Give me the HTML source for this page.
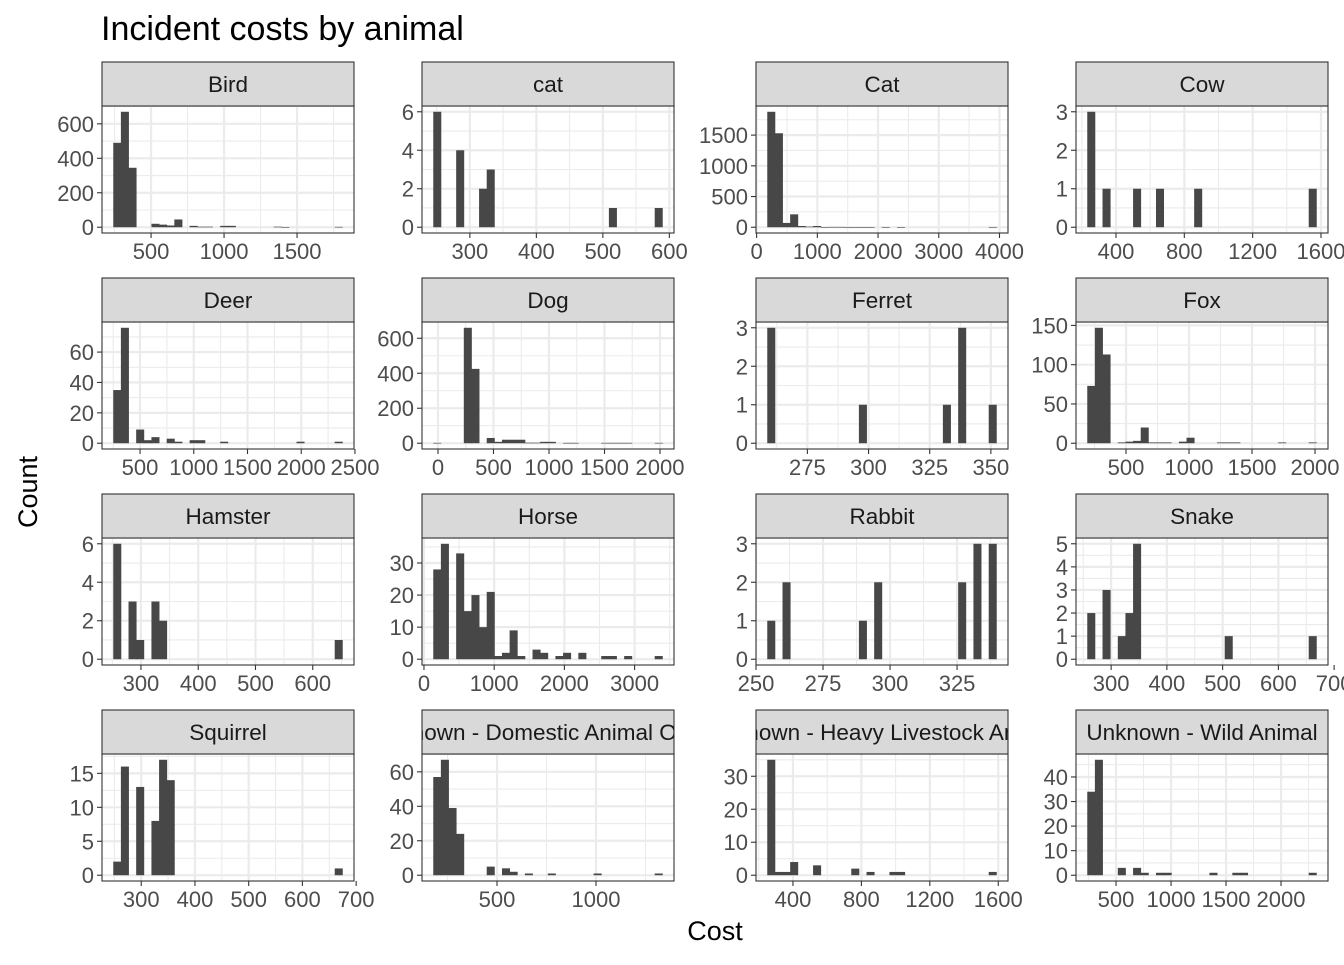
<!DOCTYPE html>
<html><head><meta charset="utf-8"><style>
body{margin:0;background:#fff;}
svg text{font-family:"Liberation Sans",Arial,sans-serif;}
</style></head><body>
<svg id="chart" width="1344" height="960" xmlns="http://www.w3.org/2000/svg">
<rect width="1344" height="960" fill="#fff"/>
<text x="101" y="40" font-size="34" fill="#000">Incident costs by animal</text>
<text x="715" y="940" font-size="27" fill="#000" text-anchor="middle">Cost</text>
<text transform="translate(37,492) rotate(-90)" font-size="27" fill="#000" text-anchor="middle">Count</text>
<defs id="defs"></defs>
<g id="panels"></g>
</svg>
<script>
const panelNames = ["Bird","cat","Cat","Cow","Deer","Dog","Ferret","Fox","Hamster","Horse","Rabbit","Snake","Squirrel","Unknown - Domestic Animal Or Pet","Unknown - Heavy Livestock Animal","Unknown - Wild Animal"];
const xDomains = [[164,1890],[228,607],[-10,4140],[166,1641],[146,2491],[-144,2126],[254,357],[103,2103],[232,672],[-28,3561],[250,344],[237,689],[227,696],[121,1394],[184,1657],[136,2427]];
const xTicks = [[500,1000,1500],[300,400,500,600],[0,1000,2000,3000,4000],[400,800,1200,1600],[500,1000,1500,2000,2500],[0,500,1000,1500,2000],[275,300,325,350],[500,1000,1500,2000],[300,400,500,600],[0,1000,2000,3000],[250,275,300,325],[300,400,500,600,700],[300,400,500,600,700],[500,1000],[400,800,1200,1600],[500,1000,1500,2000]];
const yTicks = [[0,200,400,600],[0,2,4,6],[0,500,1000,1500],[0,1,2,3],[0,20,40,60],[0,200,400,600],[0,1,2,3],[0,50,100,150],[0,2,4,6],[0,10,20,30],[0,1,2,3],[0,1,2,3,4,5],[0,5,10,15],[0,20,40,60],[0,10,20,30],[0,10,20,30,40]];
// bin counts (30 bins per panel)
const countsBird = [490,670,345,0,0,20,15,10,45,0,8,3,3,0,8,8,0,0,0,0,0,3,1,0,0,0,0,0,0,2];
const countsCatLower = [6,0,0,4,0,0,2,3,0,0,0,0,0,0,0,0,0,0,0,0,0,0,0,1,0,0,0,0,0,1];
const countsCat = [1880,1530,70,210,20,10,20,3,5,5,3,2,2,1,0,1,0,1,0,0,0,0,0,0,0,0,0,0,0,1];
const countsCow = [3,0,1,0,0,0,1,0,0,1,0,0,0,0,1,0,0,0,0,0,0,0,0,0,0,0,0,0,0,1];
const countsDeer = [35,76,0,9,2,4,0,3,1,0,2,2,0,0,1,0,0,0,0,0,0,0,0,0,1,0,0,0,0,1];
const countsDog = [2,0,0,0,660,425,0,30,8,20,20,20,3,3,8,8,0,2,2,0,0,0,2,2,2,2,0,0,0,2];
const countsFerret = [3,0,0,0,0,0,0,0,0,0,0,0,1,0,0,0,0,0,0,0,0,0,0,1,0,3,0,0,0,1];
const countsFox = [73,147,113,0,1,2,3,20,1,1,1,0,2,7,0,0,0,1,1,1,0,0,0,0,0,1,0,0,0,1];
const countsHamster = [6,0,3,1,0,3,2,0,0,0,0,0,0,0,0,0,0,0,0,0,0,0,0,0,0,0,0,0,0,1];
const countsHorse = [28,36,0,33,15,20,10,21,1,2,9,1,0,3,2,0,1,2,0,2,0,0,1,1,0,1,0,0,0,1];
const countsRabbit = [1,0,2,0,0,0,0,0,0,0,0,0,1,0,2,0,0,0,0,0,0,0,0,0,0,2,0,3,0,3];
const countsSnake = [2,0,3,0,1,2,5,0,0,0,0,0,0,0,0,0,0,0,1,0,0,0,0,0,0,0,0,0,0,1];
const countsSquirrel = [2,16,0,13,0,8,17,14,0,0,0,0,0,0,0,0,0,0,0,0,0,0,0,0,0,0,0,0,0,1];
const countsDomestic = [57,67,39,24,0,0,0,5,0,4,2,0,1,0,0,1,0,0,0,0,0,1,0,0,0,0,0,0,0,1];
const countsHeavy = [35,1,1,4,0,0,3,0,0,0,0,2,0,1,0,0,1,1,0,0,0,0,0,0,0,0,0,0,0,1];
const countsWild = [34,47,0,0,3,0,3,1,0,1,1,0,0,0,0,0,1,0,0,1,1,0,0,0,0,0,0,0,0,1];
const allCounts = [countsBird,countsCatLower,countsCat,countsCow,countsDeer,countsDog,countsFerret,countsFox,countsHamster,countsHorse,countsRabbit,countsSnake,countsSquirrel,countsDomestic,countsHeavy,countsWild];

const NS="http://www.w3.org/2000/svg";
const colX=[102,422,756,1076], PW=252, STRIP=44, PH=127, ROW0=62, ROWH=216;
const root=document.getElementById('panels'), defs=document.getElementById('defs');
function mk(tag,attrs,parent){const e=document.createElementNS(NS,tag);for(const k in attrs)e.setAttribute(k,attrs[k]);parent.appendChild(e);return e;}
function minors(t){const s=t[1]-t[0];const r=[];for(let i=-1;i<t.length;i++)r.push(t[0]+(i+0.5)*s);return r;}
panelNames.forEach((name,p)=>{
  const c=p%4, r=Math.floor(p/4);
  const L=colX[c], ST=ROW0+r*ROWH, T=ST+STRIP, B=T+PH;
  const [d0,d1]=xDomains[p];
  const sx=v=>L+(v-d0)/(d1-d0)*PW;
  const counts=allCounts[p];
  const ymax=Math.max(...counts);
  const y0=-0.05*ymax, y1=1.05*ymax;
  const sy=v=>B-(v-y0)/(y1-y0)*PH;
  const g=mk('g',{},root);
  
  
  const cid='clip'+p;
  const cp=mk('clipPath',{id:cid},defs); mk('rect',{x:L,y:T,width:PW,height:PH},cp);
  const cps=mk('clipPath',{id:cid+'s'},defs); mk('rect',{x:L,y:ST,width:PW,height:STRIP},cps);
  mk('rect',{x:L,y:T,width:PW,height:PH,fill:'#fff'},g);
  const grid=mk('g',{'clip-path':'url(#'+cid+')'},g);
  
  
  minors(xTicks[p]).forEach(v=>{const x=sx(v);mk('line',{x1:x,x2:x,y1:T,y2:B,stroke:'#EBEBEB','stroke-width':1.1},grid);});
  minors(yTicks[p]).forEach(v=>{const y=sy(v);mk('line',{x1:L,x2:L+PW,y1:y,y2:y,stroke:'#EBEBEB','stroke-width':1.1},grid);});
  xTicks[p].forEach(v=>{const x=sx(v);mk('line',{x1:x,x2:x,y1:T,y2:B,stroke:'#EBEBEB','stroke-width':2.2},grid);});
  yTicks[p].forEach(v=>{const y=sy(v);mk('line',{x1:L,x2:L+PW,y1:y,y2:y,stroke:'#EBEBEB','stroke-width':2.2},grid);});
  const w=(d1-d0)/33, start=d0+1.5*w;
  const bars=mk('g',{'clip-path':'url(#'+cid+')'},g);
  counts.forEach((n,i)=>{
    if(n<=0) return;
    const xa=sx(start+i*w), xb=sx(start+(i+1)*w);
    const ya=sy(n), yb=sy(0);
    const b=mk('rect',{x:xa-0.2,y:ya,width:xb-xa+0.4,height:Math.max(yb-ya,0.6),fill:'#474747'},bars);
    
    
  });
  mk('rect',{x:L,y:T,width:PW,height:PH,fill:'none',stroke:'#333','stroke-width':1.1},g);
  const s=mk('rect',{x:L,y:ST,width:PW,height:STRIP,fill:'#D9D9D9',stroke:'#333','stroke-width':1.1},g);
  
  
  const st=mk('text',{x:L+PW/2,y:ST+30,'font-size':22.5,fill:'#1A1A1A','text-anchor':'middle','clip-path':'url(#'+cid+'s)'},g);
  st.textContent=name;
  
  
  xTicks[p].forEach(v=>{const x=sx(v);
    mk('line',{x1:x,x2:x,y1:B,y2:B+5,stroke:'#333','stroke-width':1.1},g);
    const t=mk('text',{x:x,y:B+26,'font-size':22,fill:'#4D4D4D','text-anchor':'middle'},g);
    t.textContent=v;
    
    });
  yTicks[p].forEach(v=>{const y=sy(v);
    mk('line',{x1:L-5,x2:L,y1:y,y2:y,stroke:'#333','stroke-width':1.1},g);
    const t=mk('text',{x:L-8,y:y+8,'font-size':22,fill:'#4D4D4D','text-anchor':'end'},g);
    t.textContent=v;
    
    });
});
</script>
</body></html>
